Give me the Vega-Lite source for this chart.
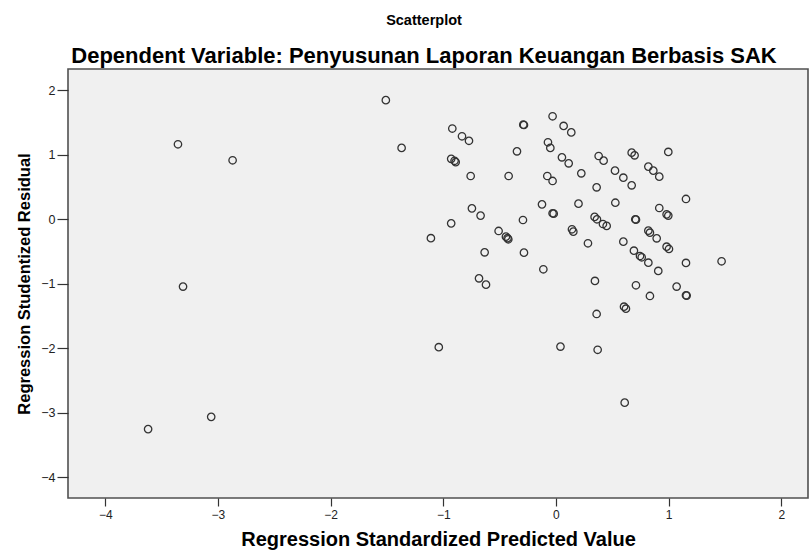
{
  "$schema": "https://vega.github.io/schema/vega-lite/v6.json",
  "autosize": "none",
  "width": 740,
  "height": 429,
  "padding": {"left": 68, "top": 69, "right": 2, "bottom": 56},
  "background": "white",
  "config": {
    "view": {"fill": "#f0f0f0", "stroke": "#505050", "strokeWidth": 1.6},
    "font": "Liberation Sans"
  },
  "title": {
    "text": "Scatterplot",
    "subtitle": "Dependent Variable: Penyusunan Laporan Keuangan Berbasis SAK",
    "font": "Liberation Sans",
    "fontSize": 14.5,
    "fontWeight": "bold",
    "color": "#000000",
    "subtitleFont": "Liberation Sans",
    "subtitleFontSize": 22,
    "subtitleFontWeight": "bold",
    "subtitleColor": "#000000",
    "subtitlePadding": 18,
    "anchor": "middle",
    "frame": "group",
    "offset": 1,
    "dx": -14
  },
  "data": {
    "values": [
      {"pred": -3.355, "resid": 1.166},
      {"pred": -2.87, "resid": 0.918},
      {"pred": -3.31, "resid": -1.04},
      {"pred": -3.06, "resid": -3.06},
      {"pred": -3.62, "resid": -3.25},
      {"pred": -1.51, "resid": 1.85},
      {"pred": -1.37, "resid": 1.11},
      {"pred": -1.11, "resid": -0.29},
      {"pred": -1.04, "resid": -1.98},
      {"pred": 0.04, "resid": -1.97},
      {"pred": 0.37, "resid": -2.02},
      {"pred": 0.61, "resid": -2.84},
      {"pred": -0.92, "resid": 1.41},
      {"pred": -0.834, "resid": 1.29},
      {"pred": -0.772, "resid": 1.22},
      {"pred": -0.284, "resid": 1.465},
      {"pred": -0.29, "resid": 1.47},
      {"pred": -0.03, "resid": 1.6},
      {"pred": 0.068, "resid": 1.45},
      {"pred": 0.136, "resid": 1.35},
      {"pred": -0.346, "resid": 1.057},
      {"pred": -0.071, "resid": 1.197},
      {"pred": -0.05, "resid": 1.11},
      {"pred": -0.93, "resid": 0.94},
      {"pred": -0.9, "resid": 0.91},
      {"pred": -0.89, "resid": 0.89},
      {"pred": 0.053, "resid": 0.964},
      {"pred": 0.113, "resid": 0.871},
      {"pred": 0.379, "resid": 0.984},
      {"pred": 0.423, "resid": 0.912},
      {"pred": 0.524, "resid": 0.757},
      {"pred": -0.757, "resid": 0.674},
      {"pred": -0.42, "resid": 0.674},
      {"pred": -0.077, "resid": 0.674},
      {"pred": -0.03, "resid": 0.597},
      {"pred": 0.225, "resid": 0.716},
      {"pred": 0.361, "resid": 0.499},
      {"pred": 0.527, "resid": 0.26},
      {"pred": 0.2, "resid": 0.245},
      {"pred": -0.124, "resid": 0.235},
      {"pred": -0.03, "resid": 0.096},
      {"pred": -0.02, "resid": 0.09},
      {"pred": -0.746, "resid": 0.173},
      {"pred": -0.669, "resid": 0.06},
      {"pred": -0.93, "resid": -0.06},
      {"pred": -0.293, "resid": -0.008},
      {"pred": 0.343, "resid": 0.04},
      {"pred": 0.364, "resid": 0.003},
      {"pred": 0.417, "resid": -0.07},
      {"pred": 0.45, "resid": -0.1},
      {"pred": 0.672, "resid": 1.036},
      {"pred": 0.698, "resid": 0.995},
      {"pred": 0.997, "resid": 1.047},
      {"pred": 0.598, "resid": 0.648},
      {"pred": 0.672, "resid": 0.53},
      {"pred": 0.82, "resid": 0.82},
      {"pred": 0.864, "resid": 0.757},
      {"pred": 0.917, "resid": 0.664},
      {"pred": 1.154, "resid": 0.318},
      {"pred": 0.917, "resid": 0.178},
      {"pred": 0.982, "resid": 0.08},
      {"pred": 0.997, "resid": 0.06},
      {"pred": 0.704, "resid": 0.003},
      {"pred": 0.71, "resid": -0.003},
      {"pred": -0.509, "resid": -0.178},
      {"pred": -0.444, "resid": -0.266},
      {"pred": -0.423, "resid": -0.307},
      {"pred": -0.43, "resid": -0.29},
      {"pred": -0.633, "resid": -0.509},
      {"pred": -0.284, "resid": -0.514},
      {"pred": 0.142, "resid": -0.152},
      {"pred": 0.154, "resid": -0.189},
      {"pred": 0.284, "resid": -0.369},
      {"pred": -0.112, "resid": -0.772},
      {"pred": -0.683, "resid": -0.912},
      {"pred": -0.621, "resid": -1.01},
      {"pred": 0.346, "resid": -0.953},
      {"pred": 0.361, "resid": -1.465},
      {"pred": 0.82, "resid": -0.173},
      {"pred": 0.834, "resid": -0.205},
      {"pred": 0.894, "resid": -0.292},
      {"pred": 0.598, "resid": -0.344},
      {"pred": 0.982, "resid": -0.422},
      {"pred": 1.003, "resid": -0.457},
      {"pred": 0.692, "resid": -0.484},
      {"pred": 0.746, "resid": -0.566},
      {"pred": 0.761, "resid": -0.586},
      {"pred": 0.82, "resid": -0.67},
      {"pred": 0.908, "resid": -0.798},
      {"pred": 1.154, "resid": -0.674},
      {"pred": 1.47, "resid": -0.648},
      {"pred": 0.71, "resid": -1.02},
      {"pred": 1.071, "resid": -1.04},
      {"pred": 0.834, "resid": -1.186},
      {"pred": 1.154, "resid": -1.175},
      {"pred": 1.16, "resid": -1.18},
      {"pred": 0.604, "resid": -1.352},
      {"pred": 0.621, "resid": -1.383}
    ]
  },
  "mark": {
    "type": "point",
    "shape": "circle",
    "filled": false,
    "stroke": "#333333",
    "strokeWidth": 1.3,
    "size": 55,
    "opacity": 1,
    "clip": true
  },
  "encoding": {
    "x": {
      "field": "pred",
      "type": "quantitative",
      "scale": {"domain": [-4.331, 2.237], "nice": false, "zero": false},
      "axis": {
        "title": "Regression Standardized Predicted Value",
        "values": [-4, -3, -2, -1, 0, 1, 2],
        "format": "d",
        "grid": false,
        "domain": false,
        "ticks": true,
        "tickSize": 8,
        "tickWidth": 1.2,
        "tickColor": "#333333",
        "labelFont": "Liberation Sans",
        "labelFontSize": 12,
        "labelColor": "#222222",
        "labelPadding": 3,
        "titleFont": "Liberation Sans",
        "titleFontSize": 20,
        "titleFontWeight": "bold",
        "titleColor": "#000000",
        "titlePadding": 9
      }
    },
    "y": {
      "field": "resid",
      "type": "quantitative",
      "scale": {"domain": [-4.318, 2.333], "nice": false, "zero": false},
      "axis": {
        "title": "Regression Studentized Residual",
        "values": [-4, -3, -2, -1, 0, 1, 2],
        "format": "d",
        "grid": false,
        "domain": false,
        "ticks": true,
        "tickSize": 11,
        "tickWidth": 1.2,
        "tickColor": "#333333",
        "labelFont": "Liberation Sans",
        "labelFontSize": 12.5,
        "labelColor": "#222222",
        "labelPadding": 2,
        "titleFont": "Liberation Sans",
        "titleFontSize": 16.5,
        "titleFontWeight": "bold",
        "titleColor": "#000000",
        "titlePadding": 8
      }
    }
  }
}
